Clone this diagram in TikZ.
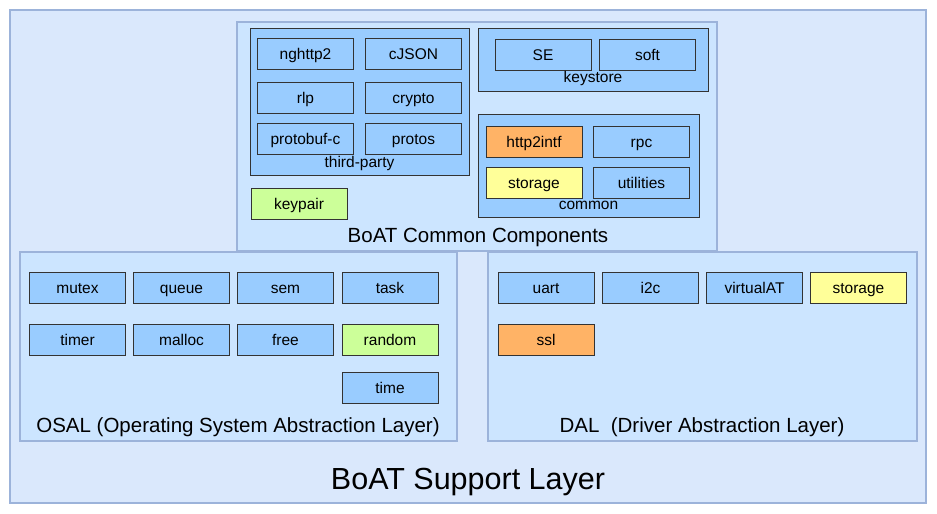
\documentclass[tikz,border=0pt]{standalone}
\usepackage{fontspec}
\setmainfont{Liberation Sans}
\definecolor{bgblue}{HTML}{DAE8FC}
\definecolor{panel}{HTML}{CCE5FF}
\definecolor{edge}{HTML}{9CB3DA}
\definecolor{modblue}{HTML}{99CCFF}
\definecolor{modorange}{HTML}{FFB366}
\definecolor{modyellow}{HTML}{FFFF99}
\definecolor{modgreen}{HTML}{CCFF99}
\begin{document}
\begin{tikzpicture}[x=1pt,y=-1pt,
	layer/.style={fill=panel,draw=edge,line width=1.2pt},
	grp/.style={fill=modblue,draw=black!80,line width=1pt},
	mod/.style={draw=black!80,fill=modblue,line width=0.9pt,minimum width=96pt,minimum height=31pt,inner sep=0pt,
		text height=13pt,text depth=2pt,font=\fontsize{15.5}{16}\selectfont},
	title/.style={inner sep=0pt,text height=11.5pt,text depth=3.5pt,font=\fontsize{15.5}{16}\selectfont},
	bigtitle/.style={inner sep=0pt,text height=15pt,text depth=4.5pt,font=\fontsize{20.5}{22}\selectfont}]
	\useasboundingbox (0,0) rectangle (937,514);
	\draw[fill=bgblue,draw=edge,line width=2pt] (10,10) rectangle (926,503);
	\draw[layer] (237,22) rectangle (717,251);
	\draw[layer] (20,252) rectangle (457,441);
	\draw[layer] (488,252) rectangle (917,441);
	\draw[grp] (250,28) rectangle (469,175);
	\draw[grp] (478,28) rectangle (708,91);
	\draw[grp] (478,114) rectangle (699,217);
	\foreach \n/\t/\x/\y in {ng/nghttp2/305.5/53.5, cj/cJSON/413.5/53.5, rl/rlp/305.5/97.5,
		cr/crypto/413.5/97.5, pb/protobuf-c/305.5/138.5, pr/protos/413.5/138.5,
		se/SE/543/54.5, sf/soft/647.5/54.5, rp/rpc/641.5/141.5, ut/utilities/641.5/182.5,
		mu/mutex/77.5/287.5, qu/queue/181.5/287.5, sm/sem/285.5/287.5, tk/task/390/287.5,
		tm/timer/77.5/340, ma/malloc/181.5/340, fr/free/285.5/340, ti/time/390/388,
		ua/uart/546/287.5, ic/i2c/650.5/287.5, va/virtualAT/754.5/287.5}
		\node[mod] (\n) at (\x,\y) {\t};
	\node[mod,fill=modgreen] (kp) at (299,203.5) {keypair};
	\node[mod,fill=modorange] (h2) at (534,141.5) {http2intf};
	\node[mod,fill=modyellow] (cst) at (534,182.5) {storage};
	\node[mod,fill=modgreen] (rd) at (390,340) {random};
	\node[mod,fill=modyellow] (dst) at (858.5,287.5) {storage};
	\node[mod,fill=modorange] (ssl) at (546,340) {ssl};
	\node[title] (tptitle) at (359.5,163) {third-party};
	\node[title] (kstitle) at (593,78) {keystore};
	\node[title] (cmtitle) at (588.5,205) {common};
	\node[bigtitle] (cctitle) at (478,237) {BoAT Common Components};
	\node[bigtitle] (ostitle) at (238,427) {OSAL (Operating System Abstraction Layer)};
	\node[bigtitle] (datitle) at (702,427) {DAL\ \ (Driver Abstraction Layer)};
	\node[inner sep=0pt,text height=22pt,text depth=6.5pt,font=\fontsize{30.5}{32}\selectfont] (sptitle) at (468,482) {BoAT Support Layer};
\end{tikzpicture}
\end{document}
